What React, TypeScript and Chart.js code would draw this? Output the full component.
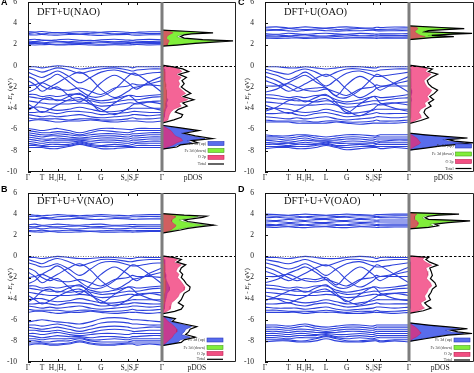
import React, { useEffect, useRef } from 'react';
import { Chart, registerables } from 'chart.js';

Chart.register(...registerables);

// ---------- shared axis data ----------
const kLabels = ['Γ', 'T', 'H₂|H₀', 'L', 'G', 'S₀|S₂', 'F', 'Γ'];
const kTicksL = [0, 0.104, 0.221, 0.386, 0.545, 0.746, 0.813, 1];
const kTicksR = [0, 0.162, 0.28, 0.424, 0.567, 0.75, 0.8, 1];
const kGridL = [0, 0.052, 0.104, 0.163, 0.221, 0.304, 0.386, 0.466, 0.545, 0.646, 0.746, 0.78, 0.813, 0.906, 1];
const kGridR = [0, 0.081, 0.162, 0.221, 0.28, 0.352, 0.424, 0.496, 0.567, 0.658, 0.75, 0.775, 0.8, 0.9, 1];
const yTicks = [-10, -8, -6, -4, -2, 0, 2, 4, 6];
const legendLabels = ['Fe 3d (up)', 'Fe 3d (down)', 'O 2p', 'Total'];

// ---------- Panel A : DFT+U(NAO) ----------
const condA = [
  [3.2, 3.18, 3.22, 3.15, 3.1, 3.15, 3.2, 3.18, 3.15, 3.22, 3.15, 3.12, 3.15, 3.2, 3.2],
  [3.05, 3.1, 3.0, 3.08, 3.12, 3.05, 2.98, 3.06, 3.1, 3.0, 3.06, 3.1, 3.08, 3.02, 3.05],
  [2.92, 2.9, 2.95, 2.9, 2.88, 2.94, 2.96, 2.9, 2.86, 2.92, 2.95, 2.9, 2.88, 2.92, 2.92],
  [2.45, 2.5, 2.42, 2.38, 2.45, 2.5, 2.4, 2.35, 2.45, 2.5, 2.42, 2.4, 2.45, 2.48, 2.45],
  [2.32, 2.28, 2.35, 2.4, 2.3, 2.26, 2.33, 2.4, 2.3, 2.26, 2.3, 2.35, 2.3, 2.27, 2.32],
  [2.2, 2.18, 2.15, 2.22, 2.25, 2.18, 2.15, 2.2, 2.22, 2.15, 2.18, 2.2, 2.18, 2.2, 2.2],
  [2.08, 2.1, 2.12, 2.06, 2.02, 2.06, 2.1, 2.08, 2.02, 2.06, 2.1, 2.06, 2.05, 2.08, 2.08],
  [1.98, 1.96, 1.98, 2.0, 1.95, 1.98, 2.0, 1.95, 1.93, 1.98, 1.95, 1.98, 2.0, 1.96, 1.98],
];
const valA = [
  [-0.1, -0.1, -0.2, -0.1, 0, -0.1, -0.3, -0.2, -0.1, -0.1, -0.1, -0.2, -0.1, -0.1, -0.1],
  [-0.3, -0.4, -0.6, -0.4, -0.2, -0.4, -0.7, -0.5, -0.3, -0.2, -0.4, -0.5, -0.4, -0.3, -0.3],
  [-0.6, -0.9, -1.1, -0.8, -0.5, -1.0, -1.6, -1.1, -0.6, -0.4, -0.7, -0.8, -0.9, -0.7, -0.6],
  [-1.0, -1.3, -1.9, -2.2, -2.0, -2.8, -3.4, -2.6, -1.6, -0.9, -1.6, -2.0, -2.2, -1.5, -1.0],
  [-1.4, -1.8, -2.4, -2.0, -1.6, -1.0, -0.6, -1.2, -2.2, -3.0, -2.4, -2.1, -2.0, -1.7, -1.4],
  [-1.9, -1.8, -1.6, -1.9, -2.2, -2.3, -2.1, -2.4, -2.7, -2.1, -1.9, -1.7, -1.8, -1.8, -1.9],
  [-2.5, -2.2, -1.6, -1.2, -0.8, -1.5, -2.3, -2.9, -2.9, -2.2, -1.0, -0.7, -0.8, -1.6, -2.5],
  [-2.7, -2.7, -2.9, -2.8, -2.9, -2.7, -2.7, -3.1, -3.3, -3.1, -2.8, -2.8, -2.9, -2.8, -2.7],
  [-2.9, -3.0, -3.1, -3.2, -3.2, -3.3, -3.2, -3.3, -3.5, -3.4, -3.2, -3.2, -3.2, -3.0, -2.9],
  [-4.2, -3.8, -3.2, -3.0, -3.3, -2.9, -2.6, -3.4, -4.3, -3.5, -2.8, -3.0, -3.4, -3.9, -4.2],
  [-3.3, -3.4, -3.5, -3.6, -3.6, -3.6, -3.5, -3.6, -3.8, -3.7, -3.5, -3.5, -3.6, -3.4, -3.3],
  [-3.6, -4.0, -4.4, -4.1, -3.7, -3.2, -3.0, -3.6, -4.1, -4.6, -4.0, -3.7, -3.5, -3.4, -3.6],
  [-4.0, -3.9, -3.9, -4.1, -4.2, -4.1, -3.9, -4.1, -4.3, -4.3, -4.1, -4.0, -4.0, -4.0, -4.0],
  [-4.4, -4.4, -4.3, -4.4, -4.5, -4.3, -4.3, -4.4, -4.6, -4.5, -4.4, -4.3, -4.3, -4.4, -4.4],
  [-4.6, -4.7, -4.8, -4.7, -4.8, -4.7, -4.6, -4.8, -4.9, -4.8, -4.7, -4.6, -4.6, -4.7, -4.6],
  [-4.9, -5.0, -5.0, -5.0, -5.0, -5.1, -5.0, -5.0, -5.1, -5.1, -5.0, -4.9, -5.0, -5.0, -4.9],
  [-5.2, -5.1, -5.1, -5.2, -5.3, -5.2, -5.2, -5.1, -5.2, -5.3, -5.2, -5.2, -5.2, -5.3, -5.2],
];
const lowA = [
  [-5.9, -6.0, -6.1, -6.0, -5.9, -6.1, -6.3, -6.1, -5.9, -5.9, -6.0, -6.0, -5.9, -5.9, -5.9],
  [-6.1, -6.2, -6.3, -6.3, -6.2, -6.3, -6.5, -6.3, -6.1, -6.2, -6.3, -6.2, -6.1, -6.1, -6.1],
  [-6.3, -6.4, -6.5, -6.5, -6.4, -6.5, -6.6, -6.5, -6.4, -6.4, -6.5, -6.4, -6.4, -6.3, -6.3],
  [-6.5, -6.6, -6.7, -6.6, -6.6, -6.7, -6.8, -6.7, -6.6, -6.6, -6.7, -6.6, -6.6, -6.5, -6.5],
  [-6.7, -6.8, -6.9, -6.9, -6.8, -6.9, -6.9, -6.9, -6.8, -6.8, -6.9, -6.8, -6.8, -6.7, -6.7],
  [-6.9, -7.0, -7.1, -7.0, -7.0, -7.0, -7.0, -7.1, -7.0, -7.0, -7.1, -7.0, -7.0, -6.9, -6.9],
  [-7.1, -7.2, -7.3, -7.2, -7.2, -7.2, -7.1, -7.3, -7.2, -7.2, -7.3, -7.2, -7.2, -7.1, -7.1],
  [-7.3, -7.4, -7.5, -7.4, -7.4, -7.4, -7.2, -7.4, -7.5, -7.4, -7.5, -7.4, -7.3, -7.3, -7.3],
  [-7.5, -7.5, -7.6, -7.6, -7.6, -7.5, -7.3, -7.5, -7.6, -7.6, -7.6, -7.6, -7.5, -7.5, -7.5],
  [-7.7, -7.7, -7.7, -7.8, -7.8, -7.6, -7.4, -7.6, -7.8, -7.8, -7.7, -7.7, -7.7, -7.7, -7.7],
];
const dosE_A = [3.35, 3.2, 3.1, 3.0, 2.9, 2.75, 2.6, 2.45, 2.35, 2.25, 2.1, 1.95, 1.85,
  0.05, -0.1, -0.3, -0.55, -0.8, -1.1, -1.4, -1.7, -2.0, -2.3, -2.6, -2.9, -3.2, -3.5, -3.8, -4.1, -4.35, -4.6, -4.85, -5.1, -5.4,
  -5.6, -5.85, -6.1, -6.35, -6.6, -6.85, -7.05, -7.25, -7.45, -7.65, -7.85];
const dosTot_A = [0, 4.5, 6.9, 4.0, 3.0, 2.5, 3.0, 5.5, 9.6, 7.5, 4.5, 2.0, 0,
  0, 1.5, 2.8, 3.6, 2.3, 3.3, 2.7, 3.0, 2.6, 3.2, 3.9, 2.9, 4.3, 2.8, 3.4, 2.2, 1.8, 2.8, 2.6, 1.6, 0,
  0, 2.5, 5.0, 3.0, 4.5, 6.8, 4.0, 4.8, 2.5, 2.0, 0];
const dosO2p_A = [0, 1.2, 1.5, 1.2, 0.9, 0.7, 0.6, 0.8, 1.0, 0.9, 0.8, 0.7, 0,
  0, 1.2, 2.3, 2.7, 1.9, 2.6, 2.2, 2.4, 2.2, 2.7, 3.2, 2.5, 3.5, 2.3, 2.6, 1.6, 1.2, 1.0, 0.9, 0.8, 0,
  0, 0.6, 1.2, 1.5, 1.8, 2.6, 2.8, 2.0, 1.5, 0.8, 0];
const dosFeUp_A = [0, 0.2, 0.3, 0.2, 0.2, 0.1, 0.1, 0.2, 0.2, 0.2, 0.2, 0.1, 0,
  0, 0.2, 0.3, 0.4, 0.3, 0.4, 0.3, 0.4, 0.4, 0.5, 0.6, 0.5, 0.8, 0.6, 0.7, 0.5, 0.4, 0.3, 0.3, 0.2, 0,
  0, 2.1, 4.3, 2.6, 3.9, 5.8, 3.4, 4.0, 2.1, 1.6, 0];
const dosFeDn_A = [0, 3.6, 5.9, 3.3, 2.5, 2.0, 2.5, 4.7, 8.5, 6.5, 3.8, 1.6, 0,
  0, 0.1, 0.2, 0.3, 0.3, 0.4, 0.4, 0.5, 0.5, 0.6, 0.6, 0.6, 0.6, 0.5, 0.5, 0.4, 0.3, 0.2, 0.2, 0.1, 0,
  0, 0.1, 0.1, 0.1, 0.1, 0.1, 0.1, 0.1, 0.1, 0, 0];

// ---------- Panel B : DFT+U+V(NAO) ----------
const condB = [
  [3.95, 3.9, 3.85, 3.9, 3.95, 3.9, 3.85, 3.9, 3.95, 3.9, 3.85, 3.9, 3.92, 3.95, 3.95],
  [3.75, 3.8, 3.7, 3.65, 3.75, 3.8, 3.7, 3.75, 3.8, 3.72, 3.7, 3.75, 3.75, 3.78, 3.75],
  [3.55, 3.5, 3.6, 3.55, 3.5, 3.55, 3.6, 3.5, 3.5, 3.58, 3.55, 3.5, 3.52, 3.55, 3.55],
  [3.0, 3.05, 2.95, 3.0, 3.05, 2.98, 2.95, 3.02, 3.05, 2.95, 3.0, 3.02, 3.0, 3.0, 3.0],
  [2.85, 2.8, 2.88, 2.82, 2.8, 2.85, 2.88, 2.8, 2.82, 2.88, 2.85, 2.82, 2.84, 2.85, 2.85],
  [2.65, 2.7, 2.6, 2.68, 2.7, 2.62, 2.6, 2.68, 2.7, 2.62, 2.65, 2.68, 2.66, 2.65, 2.65],
  [2.45, 2.42, 2.48, 2.4, 2.42, 2.48, 2.45, 2.4, 2.42, 2.48, 2.45, 2.42, 2.44, 2.45, 2.45],
  [2.35, 2.32, 2.3, 2.35, 2.3, 2.28, 2.32, 2.35, 2.3, 2.3, 2.32, 2.3, 2.32, 2.35, 2.35],
];
const valB = [
  [-0.1, -0.1, -0.2, -0.1, 0, -0.1, -0.2, -0.2, -0.1, -0.1, -0.2, -0.2, -0.1, -0.1, -0.1],
  [-0.3, -0.5, -0.7, -0.4, -0.2, -0.5, -0.9, -0.6, -0.3, -0.3, -0.5, -0.5, -0.4, -0.3, -0.3],
  [-0.6, -0.8, -1.0, -0.9, -0.7, -1.2, -1.8, -1.2, -0.6, -0.5, -0.8, -0.9, -0.9, -0.7, -0.6],
  [-1.1, -1.4, -2.0, -2.3, -2.1, -2.9, -3.5, -2.7, -1.7, -1.0, -1.7, -2.1, -2.3, -1.6, -1.1],
  [-1.5, -1.9, -2.5, -2.1, -1.7, -1.1, -0.7, -1.3, -2.3, -3.1, -2.5, -2.2, -2.1, -1.8, -1.5],
  [-2.0, -1.9, -1.7, -2.0, -2.3, -2.4, -2.2, -2.5, -2.8, -2.2, -2.0, -1.8, -1.9, -1.9, -2.0],
  [-2.6, -2.3, -1.7, -1.3, -0.9, -1.6, -2.4, -3.0, -3.0, -2.3, -1.1, -0.8, -0.9, -1.7, -2.6],
  [-2.8, -2.8, -3.0, -2.9, -3.0, -2.8, -2.8, -3.2, -3.4, -3.2, -2.9, -2.9, -3.0, -2.9, -2.8],
  [-3.0, -3.1, -3.2, -3.3, -3.3, -3.4, -3.3, -3.4, -3.6, -3.5, -3.3, -3.3, -3.3, -3.1, -3.0],
  [-4.3, -3.9, -3.3, -3.1, -3.4, -3.0, -2.7, -3.5, -4.4, -3.6, -2.9, -3.1, -3.5, -4.0, -4.3],
  [-3.4, -3.5, -3.6, -3.7, -3.7, -3.7, -3.6, -3.7, -3.9, -3.8, -3.6, -3.6, -3.7, -3.5, -3.4],
  [-3.7, -4.1, -4.5, -4.2, -3.8, -3.3, -3.1, -3.7, -4.2, -4.7, -4.1, -3.8, -3.6, -3.5, -3.7],
  [-4.1, -4.0, -4.0, -4.2, -4.3, -4.2, -4.0, -4.2, -4.4, -4.4, -4.2, -4.1, -4.1, -4.1, -4.1],
  [-4.5, -4.5, -4.4, -4.5, -4.6, -4.4, -4.4, -4.5, -4.7, -4.6, -4.5, -4.4, -4.4, -4.5, -4.5],
  [-4.7, -4.8, -4.9, -4.8, -4.9, -4.8, -4.7, -4.9, -5.0, -4.9, -4.8, -4.7, -4.7, -4.8, -4.7],
  [-5.0, -5.1, -5.1, -5.1, -5.1, -5.2, -5.1, -5.1, -5.2, -5.2, -5.1, -5.0, -5.1, -5.1, -5.0],
  [-5.3, -5.2, -5.2, -5.3, -5.4, -5.3, -5.3, -5.2, -5.3, -5.4, -5.3, -5.3, -5.3, -5.4, -5.3],
];
const lowB = [
  [-6.2, -6.1, -6.0, -6.1, -6.2, -6.3, -6.4, -6.2, -5.9, -5.8, -5.9, -6.0, -6.0, -6.1, -6.2],
  [-6.5, -6.5, -6.6, -6.5, -6.4, -6.6, -6.8, -6.6, -6.3, -6.2, -6.3, -6.4, -6.4, -6.5, -6.5],
  [-6.7, -6.8, -6.9, -6.8, -6.7, -6.9, -7.1, -6.9, -6.7, -6.6, -6.7, -6.8, -6.8, -6.7, -6.7],
  [-7.0, -7.0, -7.1, -7.1, -7.0, -7.2, -7.3, -7.2, -7.0, -6.9, -7.0, -7.1, -7.1, -7.0, -7.0],
  [-7.3, -7.3, -7.4, -7.3, -7.2, -7.4, -7.5, -7.4, -7.3, -7.3, -7.4, -7.3, -7.3, -7.3, -7.3],
  [-7.5, -7.6, -7.7, -7.6, -7.5, -7.6, -7.6, -7.7, -7.6, -7.6, -7.7, -7.6, -7.6, -7.5, -7.5],
  [-7.8, -7.8, -7.9, -7.8, -7.8, -7.8, -7.7, -7.9, -7.9, -7.8, -7.9, -7.8, -7.8, -7.8, -7.8],
  [-8.0, -8.0, -8.1, -8.1, -8.0, -8.0, -7.8, -8.0, -8.1, -8.1, -8.1, -8.0, -8.0, -8.0, -8.0],
  [-8.2, -8.2, -8.2, -8.3, -8.3, -8.2, -8.0, -8.2, -8.3, -8.3, -8.2, -8.2, -8.2, -8.2, -8.2],
  [-8.4, -8.3, -8.3, -8.4, -8.4, -8.3, -8.1, -8.3, -8.4, -8.4, -8.3, -8.3, -8.4, -8.3, -8.4],
];
const dosE_B = [4.05, 3.9, 3.8, 3.7, 3.6, 3.45, 3.3, 3.1, 2.95, 2.8, 2.65, 2.5, 2.35, 2.2,
  0.05, -0.1, -0.3, -0.55, -0.8, -1.1, -1.4, -1.7, -2.0, -2.3, -2.6, -2.9, -3.2, -3.5, -3.8, -4.1, -4.4, -4.7, -5.0, -5.2, -5.45,
  -5.65, -5.9, -6.15, -6.4, -6.65, -6.9, -7.15, -7.4, -7.65, -7.9, -8.15, -8.45];
const dosTot_B = [0, 3.0, 6.0, 5.5, 4.5, 3.0, 3.5, 5.5, 7.0, 5.0, 3.5, 2.5, 1.2, 0,
  0, 1.5, 2.6, 2.0, 3.2, 2.6, 2.4, 2.8, 2.6, 3.0, 3.3, 3.8, 3.7, 3.0, 2.8, 2.6, 2.2, 2.9, 2.6, 1.7, 0,
  0, 1.8, 1.4, 3.0, 4.7, 3.8, 3.6, 3.2, 4.5, 3.0, 2.6, 0];
const dosO2p_B = [0, 1.2, 1.8, 1.8, 1.6, 1.3, 1.3, 1.6, 1.9, 1.8, 1.5, 1.2, 0.7, 0,
  0, 1.2, 2.1, 1.6, 2.6, 2.1, 1.9, 2.3, 2.1, 2.5, 2.8, 3.1, 3.0, 2.4, 2.2, 1.8, 1.3, 1.2, 1.1, 0.7, 0,
  0, 0.5, 0.8, 1.3, 1.7, 2.0, 2.0, 1.6, 1.4, 1.0, 0.6, 0];
const dosFeUp_B = [0, 0.2, 0.3, 0.2, 0.2, 0.1, 0.1, 0.1, 0.2, 0.2, 0.2, 0.1, 0.1, 0,
  0, 0.2, 0.3, 0.3, 0.4, 0.4, 0.4, 0.5, 0.5, 0.6, 0.8, 1.0, 1.0, 0.7, 0.6, 0.5, 0.4, 0.3, 0.3, 0.2, 0,
  0, 1.5, 1.1, 2.5, 4.0, 3.2, 3.0, 2.6, 3.8, 2.5, 2.1, 0];
const dosFeDn_B = [0, 2.3, 4.9, 4.5, 3.6, 2.3, 2.8, 4.6, 6.0, 4.1, 2.8, 1.9, 0.8, 0,
  0, 0.1, 0.2, 0.2, 0.3, 0.3, 0.3, 0.4, 0.4, 0.5, 0.5, 0.5, 0.5, 0.4, 0.4, 0.3, 0.3, 0.2, 0.2, 0.1, 0,
  0, 0.1, 0.1, 0.1, 0.1, 0.1, 0.1, 0.1, 0.1, 0.1, 0, 0];

// ---------- Panel C : DFT+U(OAO) ----------
const condC = [
  [3.62, 3.66, 3.56, 3.6, 3.66, 3.6, 3.55, 3.62, 3.66, 3.58, 3.56, 3.62, 3.6, 3.65, 3.62],
  [3.46, 3.4, 3.5, 3.45, 3.4, 3.46, 3.5, 3.42, 3.45, 3.5, 3.45, 3.4, 3.42, 3.45, 3.46],
  [3.3, 3.35, 3.28, 3.25, 3.32, 3.36, 3.3, 3.26, 3.3, 3.3, 3.35, 3.3, 3.28, 3.3, 3.3],
  [3.02, 2.96, 3.06, 3.0, 2.95, 3.02, 3.06, 3.0, 2.95, 3.05, 3.0, 2.98, 3.0, 3.0, 3.02],
  [2.86, 2.9, 2.82, 2.86, 2.9, 2.82, 2.8, 2.88, 2.9, 2.82, 2.85, 2.88, 2.86, 2.85, 2.86],
  [2.72, 2.72, 2.76, 2.7, 2.68, 2.72, 2.7, 2.75, 2.7, 2.68, 2.7, 2.72, 2.7, 2.7, 2.72],
  [2.6, 2.58, 2.6, 2.62, 2.58, 2.6, 2.62, 2.58, 2.6, 2.62, 2.6, 2.58, 2.6, 2.6, 2.6],
];
const valC = [
  [-0.1, -0.1, -0.2, -0.2, -0.1, -0.2, -0.3, -0.2, -0.1, -0.1, -0.2, -0.2, -0.1, -0.1, -0.1],
  [-0.3, -0.6, -0.8, -0.5, -0.3, -0.6, -1.0, -0.6, -0.3, -0.3, -0.5, -0.5, -0.4, -0.3, -0.3],
  [-0.6, -0.9, -1.3, -1.0, -0.6, -1.2, -1.9, -1.3, -0.7, -0.5, -0.9, -1.0, -1.0, -0.8, -0.6],
  [-1.0, -1.4, -2.0, -2.4, -2.2, -2.1, -2.1, -2.8, -1.8, -1.0, -1.7, -2.1, -2.3, -1.6, -1.0],
  [-1.4, -1.8, -2.4, -2.1, -1.7, -1.2, -0.8, -1.3, -2.2, -3.0, -2.4, -2.1, -2.0, -1.7, -1.4],
  [-1.9, -1.9, -1.7, -2.0, -2.3, -2.4, -2.2, -2.5, -2.8, -2.2, -2.0, -1.8, -1.9, -1.9, -1.9],
  [-2.5, -2.2, -1.6, -1.2, -0.9, -1.5, -2.1, -2.9, -3.0, -2.3, -1.1, -0.8, -0.9, -1.7, -2.5],
  [-2.7, -2.8, -3.0, -2.9, -3.0, -2.8, -2.8, -3.2, -3.4, -3.2, -2.9, -2.9, -3.0, -2.9, -2.7],
  [-3.0, -3.1, -3.2, -3.3, -3.3, -3.4, -3.3, -3.4, -3.6, -3.5, -3.3, -3.3, -3.3, -3.1, -3.0],
  [-4.3, -3.9, -3.3, -3.1, -3.4, -3.0, -2.7, -3.5, -4.4, -3.6, -2.9, -3.1, -3.5, -4.0, -4.3],
  [-3.4, -3.5, -3.6, -3.7, -3.7, -3.7, -3.6, -3.7, -3.9, -3.8, -3.6, -3.6, -3.7, -3.5, -3.4],
  [-3.7, -4.1, -4.5, -4.2, -3.8, -3.3, -3.1, -3.7, -4.2, -4.7, -4.1, -3.8, -3.6, -3.5, -3.7],
  [-4.1, -4.0, -4.1, -4.3, -4.4, -4.3, -4.1, -4.3, -4.5, -4.4, -4.2, -4.1, -4.1, -4.1, -4.1],
  [-4.5, -4.5, -4.4, -4.6, -4.7, -4.5, -4.4, -4.6, -4.8, -4.7, -4.5, -4.4, -4.5, -4.5, -4.5],
  [-4.8, -4.9, -5.0, -4.9, -5.0, -4.9, -4.8, -5.0, -5.1, -5.0, -4.9, -4.8, -4.8, -4.9, -4.8],
  [-5.1, -5.2, -5.2, -5.2, -5.2, -5.3, -5.2, -5.2, -5.3, -5.3, -5.2, -5.1, -5.2, -5.2, -5.1],
  [-5.3, -5.3, -5.3, -5.4, -5.4, -5.4, -5.4, -5.3, -5.4, -5.5, -5.4, -5.4, -5.4, -5.4, -5.3],
];
const lowC = [
  [-6.5, -6.6, -6.6, -6.5, -6.5, -6.6, -6.7, -6.6, -6.5, -6.5, -6.6, -6.6, -6.5, -6.5, -6.5],
  [-6.7, -6.7, -6.8, -6.7, -6.6, -6.8, -6.9, -6.8, -6.7, -6.7, -6.8, -6.7, -6.7, -6.7, -6.7],
  [-6.9, -6.9, -7.0, -6.9, -6.8, -7.0, -7.0, -7.0, -6.9, -6.9, -7.0, -6.9, -6.9, -6.9, -6.9],
  [-7.0, -7.1, -7.2, -7.1, -7.0, -7.1, -7.1, -7.2, -7.1, -7.1, -7.2, -7.1, -7.1, -7.0, -7.0],
  [-7.2, -7.3, -7.3, -7.3, -7.2, -7.3, -7.2, -7.3, -7.3, -7.3, -7.3, -7.3, -7.2, -7.2, -7.2],
  [-7.4, -7.4, -7.5, -7.4, -7.4, -7.4, -7.3, -7.5, -7.5, -7.4, -7.5, -7.4, -7.4, -7.4, -7.4],
  [-7.6, -7.6, -7.6, -7.6, -7.6, -7.5, -7.4, -7.6, -7.7, -7.6, -7.6, -7.6, -7.6, -7.6, -7.6],
  [-7.8, -7.7, -7.7, -7.8, -7.8, -7.7, -7.5, -7.7, -7.9, -7.8, -7.7, -7.7, -7.8, -7.7, -7.8],
];
const dosE_C = [3.75, 3.6, 3.5, 3.4, 3.3, 3.2, 3.05, 2.95, 2.85, 2.75, 2.65, 2.55, 2.45,
  0.05, -0.1, -0.3, -0.55, -0.8, -1.1, -1.4, -1.7, -2.0, -2.3, -2.6, -2.9, -3.2, -3.5, -3.8, -4.1, -4.4, -4.65, -4.9, -5.15, -5.45,
  -6.35, -6.5, -6.65, -6.8, -6.95, -7.1, -7.25, -7.4, -7.55, -7.75, -7.95];
const dosTot_C = [0, 5.0, 8.5, 5.5, 3.0, 2.5, 9.7, 6.0, 3.5, 6.9, 3.5, 1.8, 0,
  0, 2.0, 3.6, 3.0, 4.4, 3.4, 2.8, 3.0, 3.5, 4.4, 3.9, 3.2, 3.8, 3.0, 3.4, 2.5, 2.3, 2.6, 3.0, 1.8, 0,
  0, 2.5, 5.5, 9.0, 6.0, 7.0, 9.7, 7.5, 5.0, 2.5, 0];
const dosO2p_C = [0, 1.2, 1.4, 1.2, 1.0, 0.9, 1.2, 1.5, 1.8, 2.5, 1.6, 0.8, 0,
  0, 1.6, 2.9, 2.5, 3.4, 2.8, 2.3, 2.5, 2.8, 3.5, 3.2, 2.8, 3.1, 2.4, 2.6, 1.8, 1.5, 1.8, 1.9, 1.0, 0,
  0, 0.4, 0.8, 1.2, 1.4, 1.6, 1.8, 1.5, 1.0, 0.5, 0];
const dosFeUp_C = [0, 0.2, 0.2, 0.2, 0.2, 0.2, 0.2, 0.2, 0.3, 0.3, 0.2, 0.1, 0,
  0, 0.1, 0.2, 0.2, 0.3, 0.3, 0.2, 0.3, 0.3, 0.4, 0.4, 0.3, 0.4, 0.3, 0.3, 0.3, 0.2, 0.2, 0.2, 0.1, 0,
  0, 2.2, 4.8, 7.8, 5.2, 6.1, 8.4, 6.5, 4.3, 2.1, 0];
const dosFeDn_C = [0, 4.3, 7.4, 4.8, 2.5, 2.1, 8.5, 5.2, 2.9, 6.0, 2.9, 1.5, 0,
  0, 0.1, 0.1, 0.2, 0.2, 0.2, 0.2, 0.2, 0.3, 0.3, 0.3, 0.3, 0.3, 0.2, 0.2, 0.2, 0.2, 0.2, 0.2, 0.1, 0,
  0, 0, 0.1, 0.1, 0.1, 0.1, 0.1, 0.1, 0.1, 0, 0];

// ---------- Panel D : DFT+U+V(OAO) ----------
const condD = [
  [4.0, 3.95, 3.9, 3.95, 4.0, 3.95, 3.9, 3.95, 4.0, 3.95, 3.9, 3.95, 3.97, 4.0, 4.0],
  [3.85, 3.8, 3.85, 3.8, 3.75, 3.82, 3.85, 3.78, 3.8, 3.85, 3.8, 3.78, 3.8, 3.83, 3.85],
  [3.65, 3.7, 3.62, 3.65, 3.7, 3.62, 3.6, 3.68, 3.7, 3.6, 3.65, 3.7, 3.67, 3.65, 3.65],
  [3.45, 3.4, 3.5, 3.45, 3.4, 3.48, 3.5, 3.42, 3.4, 3.5, 3.45, 3.42, 3.44, 3.45, 3.45],
  [3.25, 3.3, 3.2, 3.25, 3.3, 3.22, 3.2, 3.28, 3.3, 3.22, 3.25, 3.28, 3.26, 3.25, 3.25],
  [3.05, 3.0, 3.1, 3.05, 3.0, 3.08, 3.1, 3.02, 3.0, 3.1, 3.05, 3.02, 3.04, 3.05, 3.05],
  [2.9, 2.92, 2.85, 2.9, 2.95, 2.88, 2.85, 2.92, 2.95, 2.86, 2.9, 2.92, 2.9, 2.9, 2.9],
  [2.78, 2.75, 2.8, 2.75, 2.72, 2.78, 2.8, 2.74, 2.72, 2.8, 2.76, 2.74, 2.76, 2.78, 2.78],
];
const valD = [
  [-0.1, -0.1, -0.2, -0.1, 0, -0.1, -0.2, -0.2, -0.1, 0, -0.1, -0.2, -0.1, -0.1, -0.1],
  [-0.3, -0.5, -0.7, -0.5, -0.3, -0.6, -0.9, -0.6, -0.3, -0.3, -0.5, -0.5, -0.4, -0.3, -0.3],
  [-0.6, -0.9, -1.2, -1.0, -0.7, -1.2, -1.8, -1.2, -0.7, -0.5, -0.9, -1.0, -1.0, -0.8, -0.6],
  [-1.0, -1.4, -2.0, -2.3, -2.1, -2.2, -2.0, -2.7, -1.8, -1.0, -1.7, -2.1, -2.3, -1.6, -1.0],
  [-1.4, -1.8, -2.3, -2.0, -1.6, -1.1, -0.8, -1.3, -2.2, -2.9, -2.3, -2.0, -1.9, -1.7, -1.4],
  [-1.9, -1.9, -1.7, -2.0, -2.3, -2.4, -2.2, -2.5, -2.8, -2.2, -2.0, -1.8, -1.9, -1.9, -1.9],
  [-2.5, -2.2, -1.6, -1.3, -1.0, -1.5, -2.2, -2.9, -3.0, -2.3, -1.1, -0.8, -0.9, -1.7, -2.5],
  [-2.7, -2.8, -3.0, -2.9, -3.0, -2.8, -2.8, -3.2, -3.4, -3.2, -2.9, -2.9, -3.0, -2.9, -2.7],
  [-3.0, -3.1, -3.2, -3.3, -3.3, -3.4, -3.3, -3.4, -3.6, -3.5, -3.3, -3.3, -3.3, -3.1, -3.0],
  [-4.2, -3.8, -3.3, -3.1, -3.4, -3.0, -2.7, -3.5, -4.3, -3.6, -2.9, -3.1, -3.5, -4.0, -4.2],
  [-3.4, -3.5, -3.6, -3.7, -3.7, -3.7, -3.6, -3.7, -3.9, -3.8, -3.6, -3.6, -3.7, -3.5, -3.4],
  [-3.7, -4.0, -4.4, -4.1, -3.8, -3.3, -3.1, -3.7, -4.2, -4.6, -4.0, -3.8, -3.6, -3.5, -3.7],
  [-4.1, -4.0, -4.1, -4.3, -4.4, -4.3, -4.1, -4.3, -4.5, -4.4, -4.2, -4.1, -4.1, -4.1, -4.1],
  [-4.5, -4.5, -4.4, -4.6, -4.7, -4.5, -4.4, -4.6, -4.8, -4.7, -4.5, -4.4, -4.5, -4.5, -4.5],
  [-4.8, -4.9, -4.9, -4.9, -5.0, -4.9, -4.8, -5.0, -5.1, -5.0, -4.9, -4.8, -4.8, -4.9, -4.8],
  [-5.1, -5.1, -5.2, -5.2, -5.2, -5.2, -5.1, -5.2, -5.3, -5.2, -5.2, -5.1, -5.2, -5.2, -5.1],
  [-5.3, -5.3, -5.3, -5.3, -5.4, -5.3, -5.3, -5.3, -5.4, -5.4, -5.3, -5.3, -5.3, -5.4, -5.3],
];
const lowD = [
  [-6.5, -6.5, -6.6, -6.5, -6.4, -6.6, -6.7, -6.6, -6.5, -6.5, -6.6, -6.5, -6.5, -6.5, -6.5],
  [-6.7, -6.7, -6.8, -6.7, -6.6, -6.8, -6.9, -6.8, -6.7, -6.7, -6.8, -6.7, -6.7, -6.7, -6.7],
  [-6.9, -6.9, -7.0, -6.9, -6.9, -7.0, -7.1, -7.0, -6.9, -6.9, -7.0, -6.9, -6.9, -6.9, -6.9],
  [-7.1, -7.1, -7.2, -7.1, -7.1, -7.2, -7.2, -7.2, -7.1, -7.1, -7.2, -7.1, -7.1, -7.1, -7.1],
  [-7.3, -7.3, -7.4, -7.3, -7.3, -7.4, -7.3, -7.4, -7.4, -7.3, -7.4, -7.3, -7.3, -7.3, -7.3],
  [-7.5, -7.5, -7.6, -7.5, -7.5, -7.5, -7.4, -7.6, -7.6, -7.5, -7.6, -7.5, -7.5, -7.5, -7.5],
  [-7.7, -7.7, -7.8, -7.7, -7.7, -7.7, -7.5, -7.7, -7.8, -7.7, -7.8, -7.7, -7.7, -7.7, -7.7],
  [-7.9, -7.9, -7.9, -8.0, -8.0, -7.8, -7.6, -7.8, -8.0, -8.0, -7.9, -7.9, -8.0, -7.9, -7.9],
  [-8.1, -8.0, -8.0, -8.1, -8.1, -8.0, -7.8, -8.0, -8.1, -8.1, -8.0, -8.0, -8.1, -8.0, -8.1],
];
const dosE_D = [4.15, 4.0, 3.9, 3.8, 3.65, 3.5, 3.37, 3.2, 3.05, 2.9, 2.75, 2.6,
  0.05, -0.1, -0.3, -0.55, -0.83, -1.1, -1.4, -1.8, -2.1, -2.5, -2.8, -3.1, -3.4, -3.76, -4.1, -4.4, -4.65, -4.9, -5.15, -5.4,
  -6.3, -6.5, -6.7, -6.85, -7.0, -7.15, -7.3, -7.45, -7.6, -7.8, -8.05];
const dosTot_D = [0, 7.7, 4.5, 3.0, 2.5, 3.0, 9.4, 6.0, 4.0, 4.5, 3.0, 0,
  0, 3.0, 2.6, 3.2, 4.4, 3.2, 3.4, 3.6, 3.3, 4.0, 4.2, 3.6, 3.4, 3.0, 3.3, 2.4, 2.8, 3.4, 2.2, 0,
  0, 3.0, 6.5, 9.0, 6.5, 7.5, 9.7, 6.0, 4.5, 2.5, 0];
const dosO2p_D = [0, 1.2, 1.0, 0.9, 0.8, 0.9, 1.2, 1.4, 1.4, 1.3, 1.0, 0,
  0, 2.4, 2.1, 2.6, 3.5, 2.6, 2.8, 2.9, 2.7, 3.3, 3.5, 3.0, 2.8, 2.4, 2.6, 1.8, 2.0, 2.4, 1.4, 0,
  0, 0.5, 1.0, 1.3, 1.5, 1.7, 1.8, 1.5, 1.2, 0.6, 0];
const dosFeUp_D = [0, 0.2, 0.2, 0.2, 0.2, 0.2, 0.2, 0.2, 0.2, 0.2, 0.1, 0,
  0, 0.1, 0.1, 0.2, 0.2, 0.2, 0.2, 0.2, 0.2, 0.3, 0.3, 0.3, 0.3, 0.2, 0.2, 0.2, 0.2, 0.2, 0.1, 0,
  0, 2.6, 5.6, 7.8, 5.6, 6.5, 8.4, 5.2, 3.9, 2.1, 0];
const dosFeDn_D = [0, 6.6, 3.7, 2.5, 2.0, 2.5, 8.2, 5.0, 3.2, 3.7, 2.4, 0,
  0, 0.1, 0.1, 0.1, 0.2, 0.2, 0.2, 0.2, 0.2, 0.2, 0.2, 0.2, 0.2, 0.2, 0.2, 0.1, 0.1, 0.1, 0.1, 0,
  0, 0, 0.1, 0.1, 0.1, 0.1, 0.1, 0.1, 0.1, 0, 0];

// ---------- styling / layout ----------
const SERIF = '"Liberation Serif", "DejaVu Serif", serif';
const BAND_COLOR = 'rgb(45,65,220)';
const C_UP = 'rgb(88,108,236)';
const C_DN = 'rgb(128,238,58)';
const C_O2P = 'rgba(240,40,110,0.72)';
const C_O2P_LEG = 'rgb(242,78,130)';

const panels = [
  { letter: 'A', title: 'DFT+U(NAO)', ox: 0, oy: 0, H: 186, top: 2, bottom: 172, left: 28, div: 162, right: 236, col: 'L',
    titleX: 37, titleY: 12, cond: condA, val: valA, low: lowA,
    pE: dosE_A, pT: dosTot_A, pO: dosO2p_A, pU: dosFeUp_A, pD: dosFeDn_A, dosLab: 4.2, legY: [143.5, 150.5, 157.3, 164], swR: 224 },
  { letter: 'B', title: 'DFT+U+V(NAO)', ox: 0, oy: 186, H: 187, top: 7, bottom: 176, left: 28, div: 162, right: 236, col: 'L',
    titleX: 37, titleY: 15, cond: condB, val: valB, low: lowB,
    pE: dosE_B, pT: dosTot_B, pO: dosO2p_B, pU: dosFeUp_B, pD: dosFeDn_B, dosLab: 4.7, legY: [154, 161.5, 167.5, 173.3], swR: 223 },
  { letter: 'C', title: 'DFT+U(OAO)', ox: 237, oy: 0, H: 186, top: 2, bottom: 172, left: 28, div: 172, right: 237, col: 'R',
    titleX: 47, titleY: 12, cond: condC, val: valC, low: lowC,
    pE: dosE_C, pT: dosTot_C, pO: dosO2p_C, pU: dosFeUp_C, pD: dosFeDn_C, dosLab: 5.3, legY: [146, 154, 161.5, 168.5], swR: 234.5 },
  { letter: 'D', title: 'DFT+U+V(OAO)', ox: 237, oy: 186, H: 187, top: 7, bottom: 176, left: 28, div: 172, right: 237, col: 'R',
    titleX: 47, titleY: 15, cond: condD, val: valD, low: lowD,
    pE: dosE_D, pT: dosTot_D, pO: dosO2p_D, pU: dosFeUp_D, pD: dosFeDn_D, dosLab: 4.8, legY: [154, 161.5, 168.3, 174], swR: 233 },
];

function Panel({ p }: { p: any }) {
  const bandRef = useRef<HTMLCanvasElement>(null);
  const dosRef = useRef<HTMLCanvasElement>(null);
  const bandW = p.div + 8;
  const dosL = p.div - 2;
  const dosW = p.right - dosL + 1;

  useEffect(() => {
    const kT = p.col === 'L' ? kTicksL : kTicksR;
    const kG = p.col === 'L' ? kGridL : kGridR;
    const bands = [...p.cond, ...p.val, ...p.low];
    const bandSets = bands.map((b: number[]) => ({
      data: b.map((e, i) => ({ x: kG[i], y: e })),
      borderColor: BAND_COLOR,
      borderWidth: 1.1,
      pointRadius: 0,
      tension: 0.35,
      fill: false,
    }));
    const tickFont = { family: SERIF, size: 7.5 };

    const bandFrame = {
      id: 'bandFrame',
      afterDatasetsDraw(chart: any) {
        const { ctx, chartArea: a, scales } = chart;
        const y0 = Math.round(scales.y.getPixelForValue(0)) + 0.5;
        ctx.save();
        ctx.strokeStyle = '#555';
        ctx.lineWidth = 0.8;
        ctx.setLineDash([1, 1.5]);
        ctx.beginPath();
        ctx.moveTo(a.left, y0);
        ctx.lineTo(a.right, y0);
        ctx.stroke();
        ctx.setLineDash([]);
        ctx.strokeStyle = '#111';
        ctx.lineWidth = 1;
        ctx.strokeRect(a.left + 0.5, a.top + 0.5, a.right - a.left - 1, a.bottom - a.top - 1);
        ctx.beginPath();
        yTicks.forEach((v) => {
          const py = Math.round(scales.y.getPixelForValue(v)) + 0.5;
          ctx.moveTo(a.left, py);
          ctx.lineTo(a.left + 3, py);
        });
        kT.forEach((v) => {
          const px = Math.round(scales.x.getPixelForValue(v)) + 0.5;
          ctx.moveTo(px, a.bottom);
          ctx.lineTo(px, a.bottom - 3);
          ctx.moveTo(px, a.top);
          ctx.lineTo(px, a.top + 3);
        });
        ctx.stroke();
        ctx.restore();
      },
    };

    const bandChart = new Chart(bandRef.current as HTMLCanvasElement, {
      type: 'line',
      data: { datasets: bandSets as any },
      options: {
        animation: false,
        responsive: false,
        devicePixelRatio: 1,
        events: [],
        layout: { padding: { top: p.top, left: 0, right: 8, bottom: 0 } },
        plugins: { legend: { display: false }, tooltip: { enabled: false } },
        scales: {
          x: {
            type: 'linear', min: 0, max: 1,
            afterBuildTicks: (s: any) => { s.ticks = kT.map((v) => ({ value: v })); },
            afterFit: (s: any) => { s.height = p.H - p.bottom; s.paddingLeft = 0; s.paddingRight = 0; },
            ticks: { autoSkip: false, maxRotation: 0, minRotation: 0, padding: 1.5, font: tickFont, color: '#222',
              callback: (_v: any, i: number) => kLabels[i] },
            grid: { display: false, drawTicks: false },
            border: { display: false },
          },
          y: {
            type: 'linear', min: -10, max: 6,
            afterBuildTicks: (s: any) => { s.ticks = yTicks.map((v) => ({ value: v })); },
            afterFit: (s: any) => { s.width = p.left; s.paddingTop = 0; s.paddingBottom = 0; },
            ticks: { padding: 11, font: tickFont, color: '#222' },
            grid: { display: false, drawTicks: false },
            border: { display: false },
          },
        },
      } as any,
      plugins: [bandFrame],
    });

    const pts = (vals: number[]) => p.pE.map((e: number, i: number) => ({ x: vals[i], y: e }));
    const dosFrame = {
      id: 'dosFrame',
      afterDatasetsDraw(chart: any) {
        const { ctx, chartArea: a, scales } = chart;
        const y0 = Math.round(scales.y.getPixelForValue(0)) + 0.5;
        ctx.save();
        ctx.strokeStyle = '#000';
        ctx.lineWidth = 1;
        ctx.setLineDash([2.5, 2]);
        ctx.beginPath();
        ctx.moveTo(a.left, y0);
        ctx.lineTo(a.right, y0);
        ctx.stroke();
        ctx.setLineDash([]);
        ctx.strokeStyle = '#222';
        ctx.beginPath();
        ctx.moveTo(a.left, a.top + 0.5);
        ctx.lineTo(a.right - 0.5, a.top + 0.5);
        ctx.lineTo(a.right - 0.5, a.bottom - 0.5);
        ctx.lineTo(a.left, a.bottom - 0.5);
        ctx.stroke();
        ctx.strokeStyle = 'rgb(125,125,125)';
        ctx.lineWidth = 3;
        ctx.beginPath();
        ctx.moveTo(a.left, a.top);
        ctx.lineTo(a.left, a.bottom);
        ctx.stroke();
        // legend
        const sw = 16;
        const sx = p.swR - sw - dosL;
        const fills = [C_UP, C_DN, C_O2P_LEG];
        const edges = ['rgb(40,55,190)', 'rgb(70,160,30)', 'rgb(190,30,80)'];
        ctx.font = `4px ${SERIF}`;
        ctx.textAlign = 'right';
        ctx.textBaseline = 'middle';
        p.legY.forEach((y: number, i: number) => {
          ctx.fillStyle = '#333';
          ctx.fillText(legendLabels[i], sx - 2, y);
          if (i < 3) {
            ctx.fillStyle = fills[i];
            ctx.fillRect(sx, y - 2, sw, 4);
            ctx.strokeStyle = edges[i];
            ctx.lineWidth = 0.6;
            ctx.strokeRect(sx, y - 2, sw, 4);
          } else {
            ctx.strokeStyle = '#000';
            ctx.lineWidth = 1.2;
            ctx.beginPath();
            ctx.moveTo(sx, y);
            ctx.lineTo(sx + sw, y);
            ctx.stroke();
          }
        });
        ctx.restore();
      },
    };

    const dosChart = new Chart(dosRef.current as HTMLCanvasElement, {
      type: 'line',
      data: {
        datasets: [
          { label: 'Total', data: pts(p.pT), borderColor: '#000', borderWidth: 1.2, pointRadius: 0, tension: 0, fill: false },
          { label: 'O 2p', data: pts(p.pO), borderColor: 'rgba(200,20,80,0.7)', borderWidth: 0.5, backgroundColor: C_O2P, pointRadius: 0, tension: 0, fill: 'origin' },
          { label: 'Fe 3d (down)', data: pts(p.pD), borderColor: 'rgb(70,160,30)', borderWidth: 0.5, backgroundColor: C_DN, pointRadius: 0, tension: 0, fill: 'origin' },
          { label: 'Fe 3d (up)', data: pts(p.pU), borderColor: 'rgb(40,55,190)', borderWidth: 0.6, backgroundColor: C_UP, pointRadius: 0, tension: 0, fill: 'origin' },
        ] as any,
      },
      options: {
        indexAxis: 'y',
        animation: false,
        responsive: false,
        devicePixelRatio: 1,
        events: [],
        layout: { padding: { top: p.top, left: 2, right: 1, bottom: 0 } },
        plugins: { legend: { display: false }, tooltip: { enabled: false } },
        scales: {
          x: {
            type: 'linear', min: 0, max: 10,
            afterBuildTicks: (s: any) => { s.ticks = [{ value: p.dosLab }]; },
            afterFit: (s: any) => { s.height = p.H - p.bottom; s.paddingLeft = 0; s.paddingRight = 0; },
            ticks: { autoSkip: false, maxRotation: 0, padding: 1.5, font: tickFont, color: '#222', callback: () => 'pDOS' },
            grid: { display: false, drawTicks: false },
            border: { display: false },
          },
          y: { type: 'linear', min: -10, max: 6, display: false },
        },
      } as any,
      plugins: [dosFrame],
    });

    return () => {
      bandChart.destroy();
      dosChart.destroy();
    };
  }, []);

  const yMid = p.top + (p.bottom - p.top) * 0.54;
  return (
    <div style={{ position: 'absolute', left: p.ox, top: p.oy, width: 237, height: p.H }}>
      <canvas ref={bandRef} width={bandW} height={p.H} style={{ position: 'absolute', left: 0, top: 0 }} />
      <canvas ref={dosRef} width={dosW} height={p.H} style={{ position: 'absolute', left: dosL, top: 0 }} />
      <div style={{ position: 'absolute', left: 1, top: p.letter === 'A' || p.letter === 'C' ? -3 : -2,
        font: 'bold 9px "Liberation Sans", Arial, sans-serif', lineHeight: '10px', color: '#000' }}>{p.letter}</div>
      <div style={{ position: 'absolute', left: p.titleX, top: p.titleY - 6, font: `10.5px ${SERIF}`, lineHeight: '12px',
        color: '#111', whiteSpace: 'nowrap' }}>{p.title}</div>
      <div style={{ position: 'absolute', left: 10 - 30, top: yMid - 5, width: 60, height: 10, transform: 'rotate(-90deg)',
        textAlign: 'center', font: `7px ${SERIF}`, lineHeight: '10px', color: '#222', whiteSpace: 'nowrap' }}>
        <i>E</i> - <i>E</i><sub style={{ fontSize: '5px' }}>F</sub> (eV)
      </div>
    </div>
  );
}

export default function App() {
  return (
    <div style={{ position: 'fixed', left: 0, top: 0, width: 474, height: 373, background: '#fff', overflow: 'hidden' }}>
      {panels.map((p) => <Panel key={p.letter} p={p} />)}
    </div>
  );
}
